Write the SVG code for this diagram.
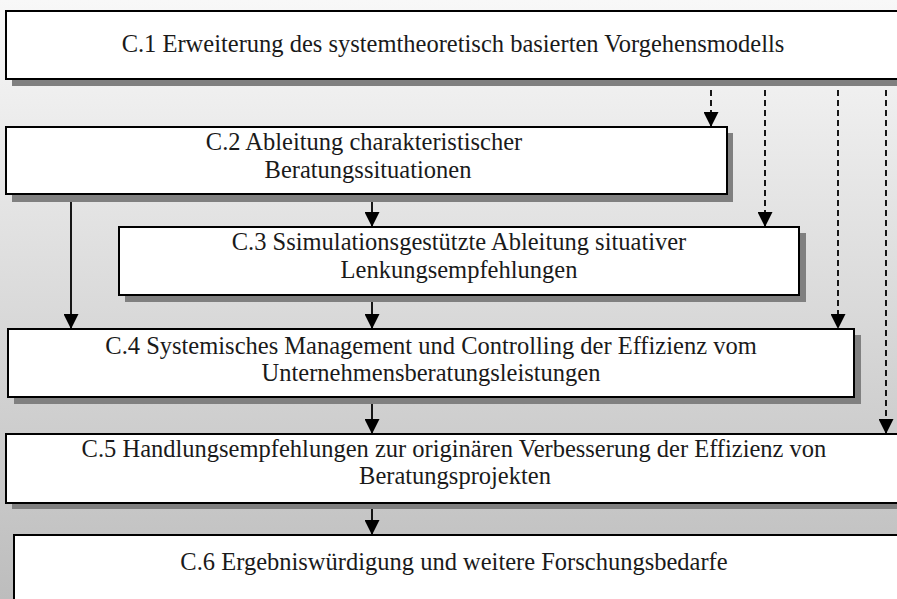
<svg xmlns="http://www.w3.org/2000/svg" width="897" height="599" viewBox="0 0 897 599">
  <defs>
    <linearGradient id="bg" x1="0" y1="0" x2="0" y2="1">
      <stop offset="0" stop-color="#f8f8f8"/>
      <stop offset="1" stop-color="#bdbdbd"/>
    </linearGradient>
    <marker id="arrow" markerWidth="16" markerHeight="15" refX="15" refY="7.5" orient="auto" markerUnits="userSpaceOnUse">
      <path d="M0,0 L15,7.5 L0,15 Z" fill="#000"/>
    </marker>
    <style>
      .shadow { fill: #808080; }
      .box { fill: #fff; stroke: #000; stroke-width: 2; }
      .label { font-family: "Liberation Serif", "Times New Roman", serif; font-size: 24.5px; fill: #1a1a1a; text-anchor: middle; }
      .flow { stroke: #000; stroke-width: 1.8; fill: none; marker-end: url(#arrow); }
      .dash { stroke-dasharray: 6 4; }
    </style>
  </defs>

  <!-- background -->
  <rect x="0" y="0" width="897" height="599" fill="url(#bg)"/>

  <!-- connectors -->
  <g id="connectors">
    <line class="flow dash" x1="711" y1="80" x2="711" y2="127"/>
    <line class="flow dash" x1="765" y1="80" x2="765" y2="227"/>
    <line class="flow dash" x1="838" y1="80" x2="838" y2="329"/>
    <line class="flow dash" x1="886" y1="80" x2="886" y2="434"/>
    <line class="flow" x1="71" y1="195" x2="71" y2="329"/>
    <line class="flow" x1="372" y1="195" x2="372" y2="227"/>
    <line class="flow" x1="372" y1="296" x2="372" y2="329"/>
    <line class="flow" x1="372" y1="398" x2="372" y2="434"/>
    <line class="flow" x1="372" y1="503" x2="372" y2="535"/>
  </g>

  <g id="c1">
    <rect class="shadow" x="12" y="17" width="900" height="69"/>
    <rect class="box" x="6" y="11" width="900" height="68"/>
    <text class="label" x="453" y="52">C.1 Erweiterung des systemtheoretisch basierten Vorgehensmodells</text>
  </g>

  <g id="c2">
    <rect class="shadow" x="12" y="133" width="721" height="69"/>
    <rect class="box" x="6" y="127" width="721" height="67"/>
    <text class="label" x="364" y="150">C.2 Ableitung charakteristischer</text>
    <text class="label" x="368" y="178">Beratungssituationen</text>
  </g>

  <g id="c3">
    <rect class="shadow" x="125" y="233" width="681" height="69"/>
    <rect class="box" x="119" y="227" width="680" height="68"/>
    <text class="label" x="459" y="250">C.3 Ssimulationsgestützte Ableitung situativer</text>
    <text class="label" x="459" y="278">Lenkungsempfehlungen</text>
  </g>

  <g id="c4">
    <rect class="shadow" x="14" y="335" width="847" height="69"/>
    <rect class="box" x="8" y="329" width="846" height="68"/>
    <text class="label" x="431" y="354">C.4 Systemisches Management und Controlling der Effizienz vom</text>
    <text class="label" x="431" y="381">Unternehmensberatungsleistungen</text>
  </g>

  <g id="c5">
    <rect class="shadow" x="12" y="440" width="900" height="69"/>
    <rect class="box" x="6" y="434" width="900" height="69"/>
    <text class="label" x="454" y="457">C.5 Handlungsempfehlungen zur originären Verbesserung der Effizienz von</text>
    <text class="label" x="455" y="484">Beratungsprojekten</text>
  </g>

  <g id="c6">
    <rect class="box" x="14" y="535" width="900" height="80"/>
    <text class="label" x="454" y="570">C.6 Ergebniswürdigung und weitere Forschungsbedarfe</text>
  </g>
</svg>
